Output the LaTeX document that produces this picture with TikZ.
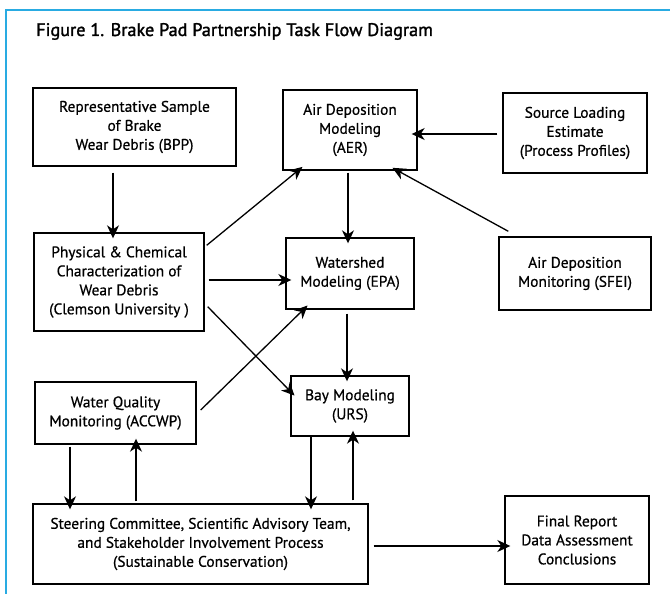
\documentclass[tikz,border=0pt]{standalone}
\usepackage{fontspec}
\setmainfont{PT Sans}[FakeBold=0.6]
\newfontfamily\titlefont{PT Sans}[FakeBold=1.6]
\usetikzlibrary{arrows.meta}
\definecolor{frameblue}{RGB}{41,171,226}
\tikzset{
  box/.style={draw, line width=1.4pt, align=center, inner sep=2pt,
    font=\fontsize{15.4}{19}\selectfont},
  arr/.style={-{Stealth[length=13pt,width=12pt,inset=4pt]}, line width=1.3pt, shorten >=-6pt},
}
\begin{document}
\begin{tikzpicture}[x=1pt,y=-1pt]
\useasboundingbox (0,0) rectangle (670,594);
\fill[white] (0,0) rectangle (670,594);
\draw[frameblue, line width=2pt] (6,594) -- (6,10) -- (670,10);
\node[anchor=base west, font=\titlefont\fontsize{18.2}{20}\selectfont, inner sep=0pt] (title) at (36,36) {Figure 1. Brake Pad Partnership Task Flow Diagram};

\node[box, minimum width=203pt, minimum height=78pt] (bpp) at (134.5,127) {Representative Sample\\of Brake\\Wear Debris (BPP)};
\node[box, minimum width=134pt, minimum height=80pt] (aer) at (350,130) {Air Deposition\\Modeling\\(AER)};
\node[box, minimum width=144pt, minimum height=80pt] (src) at (575,133) {Source Loading\\Estimate\\(Process Profiles)};
\node[box, minimum width=170pt, minimum height=98pt] (phys) at (119,282) {Physical \& Chemical\\Characterization of\\Wear Debris\\(Clemson University )};
\node[box, minimum width=128pt, minimum height=71pt] (ws) at (350,273.5) {Watershed\\Modeling (EPA)};
\node[box, minimum width=152pt, minimum height=73pt] (sfei) at (575,273.5) {Air Deposition\\Monitoring (SFEI)};
\node[box, minimum width=161pt, minimum height=62pt] (wq) at (115.5,413) {Water Quality\\Monitoring (ACCWP)};
\node[box, minimum width=118pt, minimum height=60pt] (bay) at (350,406) {Bay Modeling\\(URS)};
\node[box, minimum width=335pt, minimum height=80pt] (steer) at (200.5,544) {Steering Committee, Scientific Advisory Team,\\and Stakeholder Involvement Process\\(Sustainable Conservation)};
\node[box, minimum width=144pt, minimum height=88pt] (final) at (577,540) {Final Report\\Data Assessment\\Conclusions};

\draw[arr] ([xshift=-21.5pt,yshift=-6pt]bpp.south) -- ([xshift=-6pt]phys.north);
\draw[arr] ([xshift=-5pt,yshift=-1pt]src.west) -- ([yshift=-4pt]aer.east);
\draw[arr] ([xshift=2pt,yshift=-13pt]phys.north east) -- ([xshift=15.5pt]aer.south west);
\draw[arr] ([xshift=-2pt,yshift=-2pt]aer.south) -- ([xshift=-2pt]ws.north);
\draw[arr] ([xshift=10pt,yshift=5pt]sfei.north west) -- ([xshift=-20pt]aer.south east);
\draw[arr] ([xshift=4pt,yshift=2pt]phys.east) -- ([yshift=-6.5pt]ws.west);
\draw[arr] ([xshift=3pt,yshift=25pt]phys.south east) -- ([yshift=-16pt]bay.north west);
\draw[arr] ([xshift=4pt,yshift=3pt]wq.east) -- ([xshift=18pt]ws.south west);
\draw[arr] ([xshift=-3pt,yshift=-4pt]ws.south) -- ([xshift=-3pt]bay.north);
\draw[arr] ([xshift=-45.5pt,yshift=-2pt]wq.south) -- ([xshift=-130.5pt]steer.north);
\draw[arr] ([xshift=-64.5pt,yshift=2pt]steer.north) -- ([xshift=20.5pt]wq.south);
\draw[arr] ([xshift=-39pt]bay.south) -- ([xshift=110.5pt]steer.north);
\draw[arr] ([xshift=152.5pt,yshift=3pt]steer.north) -- ([xshift=3pt]bay.south);
\draw[arr] ([xshift=5pt,yshift=-2pt]steer.east) -- ([yshift=-6pt]final.west);
\end{tikzpicture}
\end{document}
